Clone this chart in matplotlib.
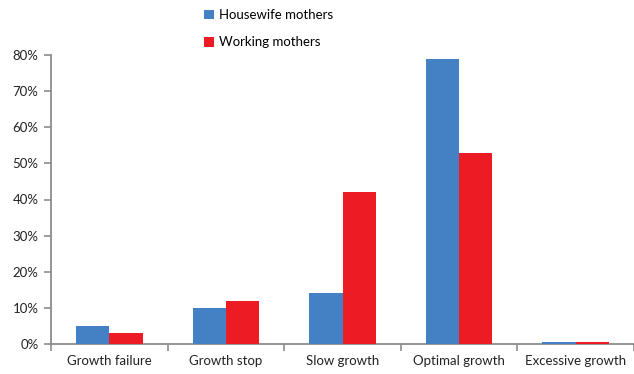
import numpy as np
import matplotlib
matplotlib.use('Agg')
from matplotlib import pyplot as plt
import matplotlib.ticker

plt.rcParams['font.family'] = ['Lato', 'DejaVu Sans']

categories = ["Growth failure", "Growth stop", "Slow growth", "Optimal growth", "Excessive growth"]
housewife = [5, 10, 14, 79, 0.6]
working = [3, 12, 42, 53, 0.6]
y_ticks = [0, 10, 20, 30, 40, 50, 60, 70, 80]

blue = "#4381C4"
red = "#ED1C24"
axis_grey = "#8C8C8C"

fig = plt.figure(figsize=(6.34, 3.74), dpi=100)
ax = fig.add_axes([51 / 634, 30 / 374, 583 / 634, 289 / 374])

x = np.arange(len(categories))
w = 0.285
ax.bar(x - w / 2, housewife, w, color=blue, label="Housewife mothers", zorder=3)
ax.bar(x + w / 2, working, w, color=red, label="Working mothers", zorder=3)

ax.set_xlim(-0.5, len(categories) - 0.5)
ax.set_ylim(0, 80)
ax.set_yticks(y_ticks)
ax.yaxis.set_major_formatter(matplotlib.ticker.FuncFormatter(lambda v, p: f"{v:.0f}%"))

# category labels centred, ticks on the boundaries
ax.set_xticks(np.arange(len(categories) + 1) - 0.5)
ax.set_xticklabels([])
ax.set_xticks(x, minor=True)
ax.set_xticklabels(categories, minor=True)
ax.tick_params(axis='x', which='minor', length=0, pad=8, labelsize=9.5, colors="#222222")
ax.tick_params(axis='x', which='major', length=5, width=1.2, color=axis_grey)
ax.tick_params(axis='y', length=5, width=1.2, color=axis_grey, labelsize=9.5, labelcolor="#222222", pad=4)

for s in ["top", "right"]:
    ax.spines[s].set_visible(False)
for s in ["left", "bottom"]:
    ax.spines[s].set_color(axis_grey)
    ax.spines[s].set_linewidth(1.3)

fig.legend(loc="upper left", bbox_to_anchor=(195 / 634, 1.0), frameon=False, fontsize=9.5,
           handlelength=0.75, handleheight=0.75, handletextpad=0.35, labelspacing=1.15,
           borderaxespad=0.3)

fig.savefig("out.png", dpi=100)
